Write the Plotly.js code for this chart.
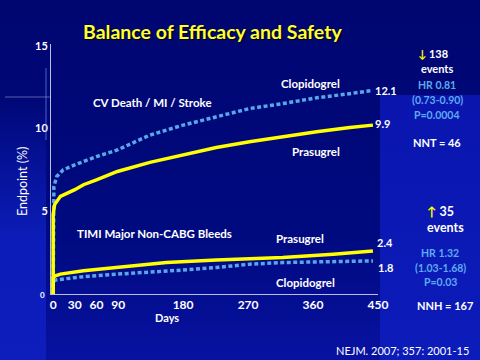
<!DOCTYPE html>
<html><head><meta charset="utf-8">
<script src="https://cdn.plot.ly/plotly-3.0.1.min.js"></script>
<style>
html,body{margin:0;padding:0;background:#000670;}
#wrap{width:480px;height:360px;position:relative;overflow:hidden;
background:
 linear-gradient(to bottom,#0a15ae,#0c1cba) 380px 95px/100px 265px no-repeat,
 linear-gradient(to bottom,rgba(12,28,184,0) 100px,#0c1cb8 240px,#0d1ebd 360px) 0 0/46px 360px no-repeat,
 linear-gradient(to bottom,#000670 0,#000a80 240px,#0812a2 360px);}
#chart{width:480px;height:360px;}
</style></head>
<body><div id="wrap"><div id="chart"></div></div>
<script>
// ---- data ----
const cvClopDays = [0, 0, 1, 5, 14, 30, 42, 60, 89, 120, 134, 180, 226, 272, 318, 365, 411, 443];
const cvClopVals = [0, 5.0, 6.5, 7.1, 7.5, 7.8, 8.0, 8.3, 8.7, 9.3, 9.6, 10.2, 10.7, 11.2, 11.5, 11.85, 12.1, 12.3];
const cvPrasDays = [0, 0, 2, 7, 10, 30, 42, 60, 89, 134, 180, 226, 272, 318, 365, 411, 443];
const cvPrasVals = [0, 4.8, 5.4, 5.7, 5.9, 6.3, 6.6, 6.9, 7.4, 7.95, 8.4, 8.85, 9.2, 9.5, 9.8, 10.05, 10.2];
const blPrasDays = [0, 0, 3, 10, 42, 89, 157, 226, 318, 388, 443];
const blPrasVals = [0, 1.0, 1.1, 1.2, 1.4, 1.6, 1.9, 2.05, 2.2, 2.4, 2.6];
const blClopDays = [0, 0, 3, 42, 89, 134, 180, 226, 272, 318, 365, 411, 443];
const blClopVals = [0, 0.7, 0.85, 1.05, 1.2, 1.35, 1.45, 1.6, 1.8, 1.9, 1.95, 2.0, 2.0];
const xTicks = [0, 30, 60, 90, 180, 270, 360, 450];
const yTicks = [5, 10, 15];
const endLabels = ["12.1", "9.9", "2.4", "1.8"];

const YEL = "#ffff00", BLU = "#5aa6ea", HRC = "#5eaaf2";
const FONT = "Lato, 'Open Sans', sans-serif";

const clopLine = {color: BLU, width: 3.5, dash: "4px,2.5px"};
const prasLine = {color: YEL, width: 3.5};
const traces = [
  {x: cvClopDays, y: cvClopVals, mode: "lines", line: clopLine, hoverinfo: "skip"},
  {x: blClopDays, y: blClopVals, mode: "lines", line: clopLine, hoverinfo: "skip"},
  {x: cvPrasDays, y: cvPrasVals, mode: "lines", line: prasLine, hoverinfo: "skip"},
  {x: blPrasDays, y: blPrasVals, mode: "lines", line: prasLine, hoverinfo: "skip"}
];

// pixel -> paper helpers for annotation placement
const L = 51, R = 378, T = 44, B = 294;
const px = x => (x - L) / (R - L);
const py = y => (B - y) / (B - T);
function A(text, x, y, size, color, bold, extra) {
  return Object.assign({
    text: text, xref: "paper", yref: "paper", x: px(x), y: py(y),
    xanchor: "center", yanchor: "middle", showarrow: false,
    font: {family: FONT, size: size, color: color, weight: bold ? 700 : 400}
  }, extra || {});
}
const W = "#ffffff";
const arrowDn = '<span style="color:#ffff00">↓</span>';
const arrowUp = '<span style="color:#ffff00">↑</span>';
const annotations = [
  A("Balance of Efficacy and Safety", 212, 32, 19.5, "#ffff33", true,
    {font: {family: FONT, size: 19.5, color: "#ffff33", weight: 700, shadow: "1px 1px 1px #000000"}}),
  A("Endpoint (%)", 22, 182, 12.5, W, false, {textangle: -90}),
  A("0", 42, 295, 8, W, true),
  A("Days", 167, 317, 11, W, true),
  A("CV Death / MI / Stroke", 152, 102, 11.5, W, true),
  A("Clopidogrel", 310, 83, 11.5, W, true),
  A("Prasugrel", 316, 151, 11.5, W, true),
  A(endLabels[0], 386, 90, 11, W, true),
  A(endLabels[1], 382, 124, 11, W, true),
  A("TIMI Major Non-CABG Bleeds", 154, 233, 11.5, W, true),
  A("Prasugrel", 300, 238, 11.5, W, true),
  A("Clopidogrel", 305, 282, 11.5, W, true),
  A(endLabels[2], 385, 242, 11, W, true),
  A(endLabels[3], 385, 267, 11, W, true),
  A(arrowDn + " 138", 433, 53, 11, W, true),
  A("events", 437, 68, 11, W, true),
  A("HR 0.81", 437, 85, 10.5, HRC, true),
  A("(0.73-0.90)", 437, 100, 10.5, HRC, true),
  A("P=0.0004", 437, 115, 10.5, HRC, true),
  A("NNT = 46", 437, 142, 11, W, true),
  A(arrowUp + " 35", 440, 212, 12.5, W, true),
  A("events", 445, 227, 12.5, W, true),
  A("HR 1.32", 440, 253, 10.5, HRC, true),
  A("(1.03-1.68)", 440, 268, 10.5, HRC, true),
  A("P=0.03", 440, 282, 10.5, HRC, true),
  A("NNH = 167", 445, 305, 11, W, true),
  A("NEJM. 2007; 357: 2001-15", 403, 350, 11, W, false)
];

const shapes = [
  {type: "line", xref: "paper", yref: "paper", x0: px(5), x1: px(50), y0: py(97), y1: py(97),
   line: {color: "rgba(220,220,240,0.4)", width: 1}},
  {type: "line", xref: "paper", yref: "paper", x0: px(46), x1: px(46), y0: py(68), y1: py(140),
   line: {color: "rgba(120,160,255,0.6)", width: 1}}
];

const layout = {
  width: 480, height: 360,
  margin: {l: L, r: 480 - R, t: T, b: 360 - B},
  paper_bgcolor: "rgba(0,0,0,0)", plot_bgcolor: "rgba(0,0,0,0)",
  showlegend: false,
  xaxis: {range: [-3, 450], tickvals: xTicks, ticks: "", showgrid: false, zeroline: false,
    showline: true, linecolor: "#b8c0ea", linewidth: 1,
    tickfont: {family: FONT, size: 12, color: W, weight: 700}},
  yaxis: {range: [0, 15.1], tickvals: yTicks, ticks: "", showgrid: false, zeroline: false,
    showline: true, linecolor: "#b8c0ea", linewidth: 1,
    tickfont: {family: FONT, size: 11, color: W, weight: 700}},
  annotations: annotations, shapes: shapes
};
Plotly.newPlot("chart", traces, layout, {displayModeBar: false, staticPlot: true});
</script></body></html>
